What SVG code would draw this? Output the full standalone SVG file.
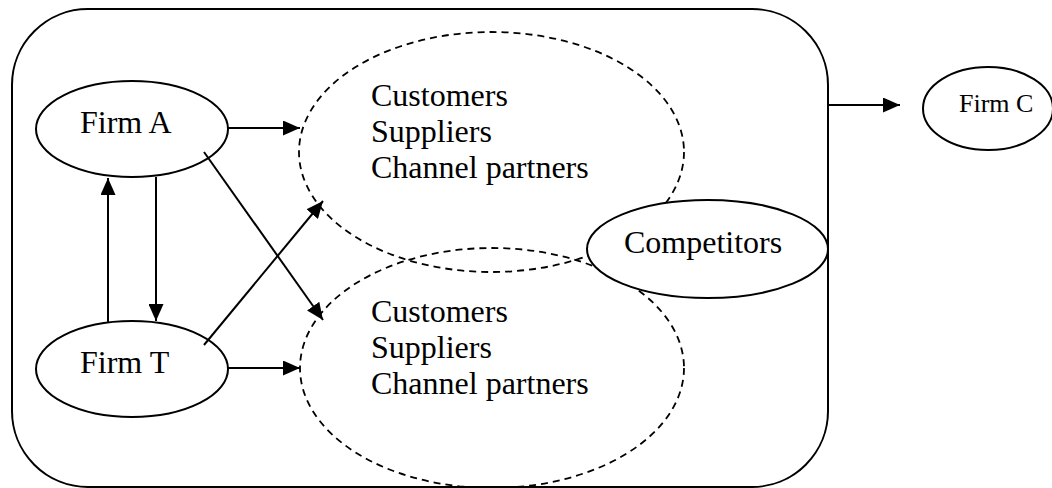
<svg xmlns="http://www.w3.org/2000/svg" width="1052" height="488" viewBox="0 0 1052 488">
<style>
.sh{fill:#fff;stroke:#000;stroke-width:2}
.dash{fill:none;stroke:#000;stroke-width:1.8;stroke-dasharray:7 5}
.t{font-family:"Liberation Serif","Times New Roman",serif;font-size:32px;fill:#000}
.c{stroke:#000;stroke-width:2;fill:none;marker-end:url(#ah)}
</style>
<defs>
<marker id="ah" markerWidth="17" markerHeight="15" refX="17" refY="7.5" orient="auto" markerUnits="userSpaceOnUse">
<path d="M0,0 L17,7.5 L0,15 Z" fill="#000"/>
</marker>
</defs>
<g id="boundary">
<rect x="12" y="9" width="816" height="478" rx="76" ry="76" fill="none" stroke="#000" stroke-width="2"/>
</g>
<g id="network-top">
<ellipse cx="491.5" cy="152" rx="192.5" ry="120" class="dash"/>
<text class="t" x="371" y="106">Customers</text>
<text class="t" x="371" y="142">Suppliers</text>
<text class="t" x="371" y="178">Channel partners</text>
</g>
<g id="network-bottom">
<ellipse cx="492" cy="368" rx="192" ry="120" class="dash"/>
<text class="t" x="371" y="322">Customers</text>
<text class="t" x="371" y="358">Suppliers</text>
<text class="t" x="371" y="394">Channel partners</text>
</g>
<g id="competitors">
<ellipse cx="707.5" cy="249" rx="120.5" ry="49" class="sh"/>
<text class="t" x="624" y="253">Competitors</text>
</g>
<g id="firm-a">
<ellipse cx="132" cy="129" rx="96" ry="48" class="sh"/>
<text class="t" x="80" y="133">Firm A</text>
</g>
<g id="firm-t">
<ellipse cx="132" cy="369" rx="96" ry="48" class="sh"/>
<text class="t" x="80" y="373">Firm T</text>
</g>
<g id="firm-c">
<ellipse cx="988" cy="108.5" rx="65" ry="41.5" class="sh"/>
<text class="t" x="959" y="112" style="font-size:26px">Firm C</text>
</g>
<g id="connectors">
<line x1="228" y1="128" x2="300" y2="128" class="c"/>
<line x1="228" y1="368" x2="300" y2="368" class="c"/>
<line x1="108" y1="322" x2="108" y2="178" class="c"/>
<line x1="156" y1="177" x2="156" y2="321" class="c"/>
<line x1="204" y1="152" x2="323" y2="320" class="c"/>
<line x1="204" y1="345" x2="323" y2="201" class="c"/>
<line x1="828" y1="105" x2="900" y2="105" class="c"/>
</g>
</svg>
